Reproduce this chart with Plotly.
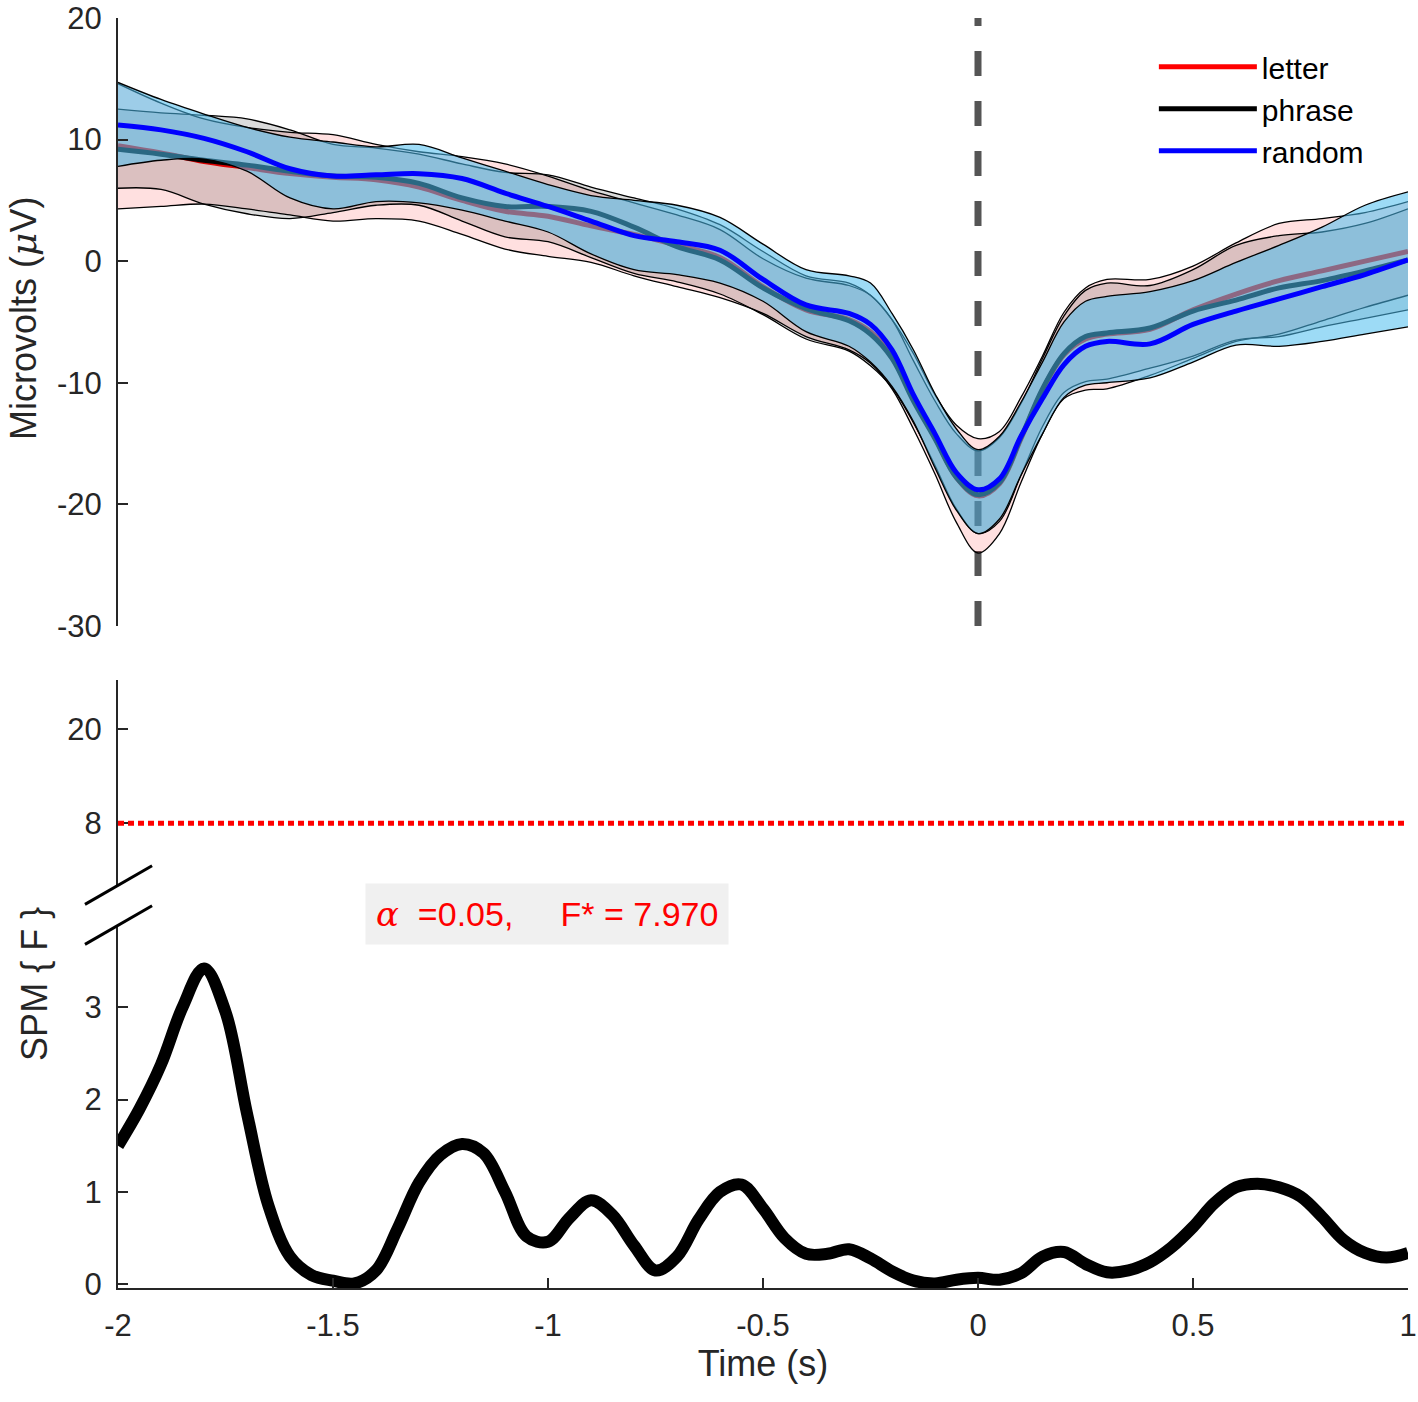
import plotly.graph_objects as go

# time axis (s) shared by the ERP curves
t = [-2.0, -1.9, -1.8, -1.7, -1.6, -1.5, -1.4, -1.3, -1.2, -1.1, -1.0, -0.9, -0.8, -0.7, -0.6,
     -0.5, -0.4, -0.3, -0.25, -0.2, -0.15, -0.1, -0.05, 0.0, 0.05, 0.1, 0.15, 0.2, 0.25, 0.3,
     0.4, 0.5, 0.6, 0.7, 0.8, 0.9, 1.0]

# mean amplitudes (microvolts)
letter_mean = [9.5, 8.9, 8.2, 7.7, 7.2, 6.9, 6.7, 6.1, 5.0, 4.1, 3.7, 2.9, 2.2, 1.3, 0.3,
               -2.1, -4.0, -4.8, -5.8, -7.8, -11.3, -14.5, -17.8, -19.3, -18.3, -14.6, -10.6, -7.7, -6.4, -6.0,
               -5.6, -4.0, -2.7, -1.6, -0.8, 0.0, 0.8]
phrase_mean = [9.2, 8.8, 8.3, 7.9, 7.4, 7.0, 6.9, 6.4, 5.2, 4.5, 4.5, 4.1, 2.8, 1.2, 0.1,
               -2.2, -3.9, -4.9, -6.0, -8.0, -11.5, -14.6, -17.8, -19.2, -18.2, -14.5, -10.5, -7.6, -6.2, -5.9,
               -5.5, -4.1, -3.2, -2.2, -1.6, -0.8, 0.1]
random_mean = [11.2, 10.8, 10.1, 9.0, 7.6, 7.0, 7.1, 7.2, 6.8, 5.6, 4.5, 3.3, 2.1, 1.6, 0.9,
               -1.5, -3.6, -4.3, -5.2, -7.3, -11.0, -14.2, -17.4, -18.8, -17.9, -14.4, -11.3, -8.5, -7.0, -6.6,
               -6.8, -5.2, -4.1, -3.1, -2.1, -1.1, 0.1]

# band limits
letter_hi = [14.6, 13.0, 11.7, 11.0, 10.6, 10.4, 9.6, 9.0, 8.6, 8.0, 7.0, 5.8, 4.8, 3.8, 2.6,
             0.2, -1.4, -2.0, -2.8, -4.8, -7.6, -11.0, -13.5, -14.6, -14.0, -11.2, -7.8, -4.2, -2.2, -1.5,
             -1.5, -0.4, 1.5, 3.1, 3.5, 4.0, 4.9]
letter_lo = [4.3, 4.5, 4.7, 4.3, 3.8, 3.3, 3.5, 3.3, 2.2, 1.0, 0.4, -0.1, -1.2, -2.1, -3.0,
             -4.3, -6.2, -7.3, -8.4, -10.5, -13.8, -17.5, -21.5, -24.0, -22.4, -18.2, -14.2, -11.3, -10.6, -10.5,
             -9.4, -8.0, -6.6, -6.0, -4.9, -3.8, -2.8]
phrase_hi = [12.5, 12.2, 12.0, 11.7, 10.8, 9.6, 9.3, 8.8, 8.0, 7.3, 7.1, 6.1, 5.2, 4.3, 3.0,
             0.8, -1.2, -1.8, -2.8, -4.8, -8.2, -11.5, -14.2, -15.6, -14.5, -11.7, -8.0, -4.5, -2.4, -1.8,
             -2.0, -0.7, 1.3, 2.1, 2.4, 3.1, 4.3]
phrase_lo = [6.0, 5.9, 4.7, 3.9, 3.5, 4.0, 4.6, 4.6, 3.3, 2.0, 1.6, 0.3, -1.0, -1.7, -2.7,
             -4.4, -6.4, -7.4, -8.6, -10.4, -13.3, -16.8, -20.4, -22.4, -21.4, -17.6, -13.6, -10.8, -9.9, -9.7,
             -8.8, -7.8, -6.5, -6.2, -5.4, -4.7, -4.0]
random_hi = [14.7, 13.3, 12.1, 11.0, 10.2, 9.8, 9.4, 9.6, 8.5, 7.4, 6.3, 5.4, 5.0, 4.6, 3.6,
             1.4, -0.7, -1.2, -1.8, -4.3, -7.3, -10.9, -13.8, -15.5, -14.4, -11.6, -8.3, -5.0, -3.3, -2.9,
             -2.5, -1.6, -0.1, 1.3, 2.8, 4.6, 5.7]
random_lo = [7.8, 8.3, 8.4, 7.4, 5.2, 4.3, 4.9, 4.8, 4.2, 3.3, 2.4, 0.6, -0.7, -1.1, -1.8,
             -3.3, -5.8, -7.0, -8.3, -10.3, -13.2, -17.0, -20.5, -22.4, -21.2, -17.6, -14.2, -11.2, -10.2, -10.0,
             -9.6, -8.3, -6.9, -7.0, -6.6, -6.0, -5.4]

# SPM{F} statistic
t_f = [-2.0, -1.95, -1.9, -1.85, -1.8, -1.75, -1.7, -1.65, -1.6, -1.55, -1.5, -1.45, -1.4, -1.35, -1.3,
       -1.25, -1.2, -1.15, -1.1, -1.05, -1.0, -0.95, -0.9, -0.85, -0.8, -0.75, -0.7, -0.65, -0.6, -0.55,
       -0.5, -0.45, -0.4, -0.35, -0.3, -0.25, -0.2, -0.15, -0.1, -0.05, 0.0, 0.05, 0.1, 0.15, 0.2,
       0.25, 0.3, 0.35, 0.4, 0.45, 0.5, 0.55, 0.6, 0.65, 0.7, 0.75, 0.8, 0.85, 0.9, 0.95, 1.0]
spm_f = [1.50, 1.90, 2.38, 3.00, 3.42, 2.95, 1.85, 0.85, 0.30, 0.10, 0.04, 0.01, 0.15, 0.60, 1.10,
         1.40, 1.52, 1.42, 1.00, 0.52, 0.46, 0.72, 0.91, 0.75, 0.42, 0.15, 0.30, 0.70, 1.00, 1.08,
         0.82, 0.50, 0.33, 0.33, 0.38, 0.28, 0.14, 0.04, 0.01, 0.05, 0.07, 0.05, 0.12, 0.30, 0.35,
         0.22, 0.13, 0.15, 0.24, 0.40, 0.62, 0.88, 1.05, 1.09, 1.05, 0.95, 0.73, 0.48, 0.34, 0.29, 0.34]

f_crit = 7.970
alpha = 0.05
onset = 0

x_ticks = [-2, -1.5, -1, -0.5, 0, 0.5, 1]
x_ticktext = ['-2', '-1.5', '-1', '-0.5', '0', '0.5', '1']
uv_ticks = [-30, -20, -10, 0, 10, 20]
uv_ticktext = ['-30', '-20', '-10', '0', '10', '20']

FONT = 'Liberation Sans, Arial, sans-serif'
INK = '#262626'
EDGE = dict(color='black', width=1.3, shape='spline')
MU = '<span style="font-family:DejaVu Serif"><i>%s</i></span>'

fig = go.Figure()

def add_band(lo, hi, mean, name, fill, color):
    fig.add_trace(go.Scatter(x=t, y=lo, mode='lines', line=EDGE, showlegend=False,
                             hoverinfo='skip', xaxis='x', yaxis='y'))
    fig.add_trace(go.Scatter(x=t, y=hi, mode='lines', line=EDGE, fill='tonexty', fillcolor=fill,
                             showlegend=False, hoverinfo='skip', xaxis='x', yaxis='y'))
    fig.add_trace(go.Scatter(x=t, y=mean, mode='lines', name=name,
                             line=dict(color=color, width=5, shape='spline'), xaxis='x', yaxis='y'))

add_band(letter_lo, letter_hi, letter_mean, 'letter', 'rgba(255,0,0,0.12)', 'red')
add_band(phrase_lo, phrase_hi, phrase_mean, 'phrase', 'rgba(0,0,0,0.14)', 'black')
add_band(random_lo, random_hi, random_mean, 'random', 'rgba(77,190,238,0.55)', 'blue')

# SPM{F} curve, lower segment of the broken axis
fig.add_trace(go.Scatter(x=t_f, y=spm_f, mode='lines', showlegend=False,
                         line=dict(color='black', width=12, shape='spline'),
                         xaxis='x2', yaxis='y3'))

# stimulus onset
fig.add_shape(type='line', xref='x', yref='y domain', x0=onset, x1=onset, y0=0, y1=1,
              line=dict(color='#555555', width=7, dash='25px,25px'), layer='below')

# critical threshold
fig.add_shape(type='line', xref='x2 domain', yref='y2', x0=0, x1=1, y0=f_crit, y1=f_crit,
              line=dict(color='red', width=5, dash='6px,4px'))

# axis break marks, centred on the ends of the two axis segments
for yc in (0.3173, 0.2858):
    fig.add_shape(type='line', xref='paper', yref='paper', x0=-0.0256, x1=0.0264,
                  y0=yc - 0.0152, y1=yc + 0.0152, line=dict(color='black', width=3))

fig.add_annotation(xref='paper', yref='paper', x=0.3326, y=0.2945, xanchor='center', yanchor='middle',
                   showarrow=False,
                   text=(MU % 'α') + '\u00a0\u00a0=%.2f,\u00a0\u00a0\u00a0\u00a0\u00a0F* = %.3f' % (alpha, f_crit),
                   font=dict(family=FONT, size=34, color='red'),
                   bgcolor='#F0F0F0', borderpad=10)

fig.add_annotation(xref='paper', yref='paper', x=-0.0729, y=0.7638, showarrow=False,
                   text='Microvolts (' + (MU % 'μ') + 'V)', textangle=-90,
                   xanchor='center', yanchor='middle',
                   font=dict(family=FONT, size=36, color=INK))

fig.add_annotation(xref='paper', yref='paper', x=-0.0643, y=0.2395, showarrow=False,
                   text='SPM { F }', textangle=-90, xanchor='center', yanchor='middle',
                   font=dict(family=FONT, size=36, color=INK))

axis_common = dict(showgrid=False, zeroline=False, showline=True, linecolor=INK, linewidth=2,
                   ticks='inside', ticklen=10, tickwidth=2, tickcolor=INK, automargin=False,
                   tickfont=dict(family=FONT, size=31, color=INK))

fig.update_layout(
    width=1418, height=1402,
    margin=dict(l=118, r=10, t=18, b=114),
    paper_bgcolor='white', plot_bgcolor='white',
    font=dict(family=FONT, size=31, color=INK),
    xaxis=dict(domain=[0, 1], range=[-2, 1], visible=False, anchor='y', automargin=False),
    yaxis=dict(domain=[0.5213, 1], range=[-30, 20], anchor='x',
               tickvals=uv_ticks, ticktext=uv_ticktext, ticklabelstandoff=8, **axis_common),
    xaxis2=dict(domain=[0, 1], range=[-2, 1], anchor='y3',
                tickvals=x_ticks, ticktext=x_ticktext, ticklabelstandoff=9,
                title=dict(text='Time (s)', font=dict(family=FONT, size=36, color=INK), standoff=6),
                **axis_common),
    yaxis2=dict(domain=[0.3173, 0.4787], range=[0.08, 26.26], anchor='x2',
                tickvals=[8, 20], ticktext=['8', '20'], ticklabelstandoff=8, **axis_common),
    yaxis3=dict(domain=[0, 0.2858], range=[-0.04, 3.89], anchor='x2',
                tickvals=[0, 1, 2, 3], ticktext=['0', '1', '2', '3'], ticklabelstandoff=8, **axis_common),
    legend=dict(x=0.803, y=0.982, xanchor='left', yanchor='top', bgcolor='rgba(0,0,0,0)',
                traceorder='normal', font=dict(family=FONT, size=30, color='black'),
                itemwidth=98, tracegroupgap=0),
    showlegend=True,
)

# drop the browser's default 8px body margin so the figure sits at the page origin
fig.write_html('out.html', config={'displayModeBar': False},
               post_script="document.body.style.margin='0';")
